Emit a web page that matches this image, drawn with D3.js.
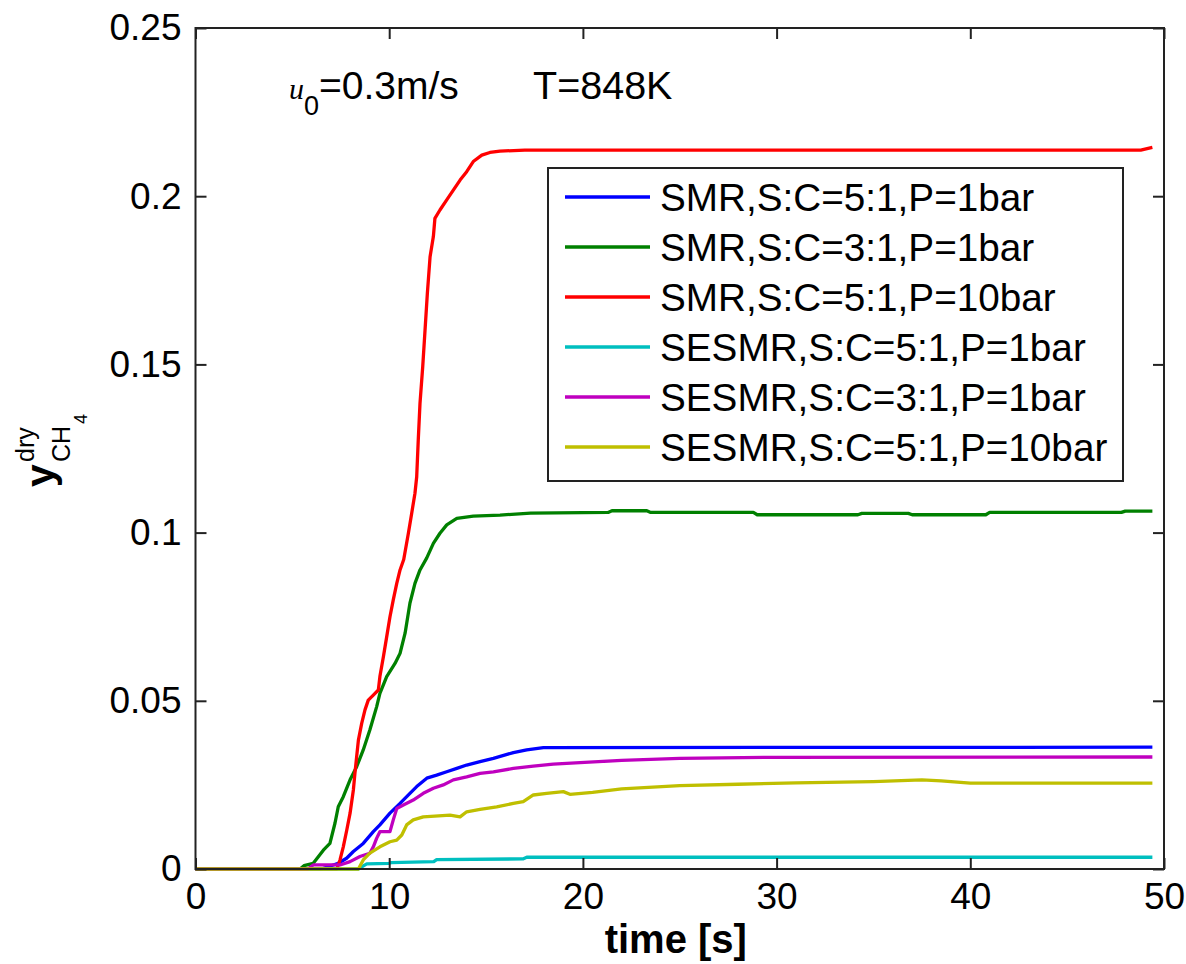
<!DOCTYPE html>
<html>
<head>
<meta charset="utf-8">
<script src="https://cdn.jsdelivr.net/npm/d3@7"></script>
<style>
  body { margin: 0; background: #fff; }
  svg text { font-family: "Liberation Sans", Arial, sans-serif; fill: #000; }
</style>
</head>
<body>
<div id="chart"></div>
<script>
// series labels and colours (MATLAB default order)
const seriesNames = [
  "SMR,S:C=5:1,P=1bar",
  "SMR,S:C=3:1,P=1bar",
  "SMR,S:C=5:1,P=10bar",
  "SESMR,S:C=5:1,P=1bar",
  "SESMR,S:C=3:1,P=1bar",
  "SESMR,S:C=5:1,P=10bar"
]
const seriesColors = ["#0000ff", "#008000", "#ff0000", "#00bfbf", "#bf00bf", "#bfbf00"]

// values: time [s] and y_CH4 for every curve
const tSMR51_1 = [0, 6.5, 7.11, 7.37, 7.8, 8.15, 8.66, 9.18, 9.52, 10.04, 10.56, 11.07, 11.42, 11.94, 12.45, 12.97, 13.49, 14.0, 14.69, 15.38, 16.41, 17.1, 17.96, 49.4]
const ySMR51_1 = [0, 0, 0.0012, 0.0017, 0.0032, 0.0052, 0.0076, 0.0111, 0.0131, 0.0166, 0.0195, 0.0225, 0.0245, 0.027, 0.0279, 0.0289, 0.0299, 0.0309, 0.0319, 0.0329, 0.0346, 0.0354, 0.0361, 0.0362]

const tSMR31_1 = [0, 5.4, 5.6, 6.08, 6.6, 6.94, 7.2, 7.37, 7.63, 7.98, 8.32, 8.66, 9.0, 9.35, 9.52, 9.87, 10.3, 10.56, 10.82, 11.07, 11.33, 11.59, 11.94, 12.28, 12.62, 12.97, 13.49, 14.34, 15.72, 17.3, 21.3, 21.5, 23.3, 23.5, 28.8, 29, 34.2, 34.4, 36.8, 37, 40.8, 41, 47.8, 48, 49.4]
const ySMR31_1 = [0, 0, 0.001, 0.0017, 0.0056, 0.0076, 0.0136, 0.0185, 0.0215, 0.0265, 0.0304, 0.0354, 0.0413, 0.0482, 0.0522, 0.0572, 0.0611, 0.0641, 0.0701, 0.079, 0.0849, 0.0889, 0.0925, 0.0968, 0.0998, 0.1023, 0.1042, 0.1049, 0.1052, 0.1058, 0.106, 0.1065, 0.1065, 0.106, 0.106, 0.1053, 0.1053, 0.1057, 0.1057, 0.1053, 0.1053, 0.106, 0.106, 0.1064, 0.1064]

const tSMR51_10 = [0, 7.3, 7.46, 7.63, 7.81, 7.98, 8.15, 8.23, 8.32, 8.41, 8.58, 8.75, 8.92, 9.18, 9.44, 9.52, 9.7, 9.87, 10.04, 10.21, 10.39, 10.56, 10.75, 10.99, 11.16, 11.33, 11.42, 11.5, 11.59, 11.73, 11.85, 11.97, 12.11, 12.28, 12.36, 12.62, 12.97, 13.31, 13.66, 14.0, 14.34, 14.78, 15.2, 15.72, 17, 48.8, 49.4]
const ySMR51_10 = [0, 0, 0.0027, 0.0066, 0.0116, 0.0166, 0.0235, 0.0284, 0.0334, 0.0383, 0.0433, 0.0473, 0.0502, 0.0517, 0.0532, 0.0572, 0.0631, 0.069, 0.075, 0.08, 0.0849, 0.0889, 0.092, 0.0998, 0.1057, 0.1117, 0.1166, 0.1275, 0.1384, 0.1493, 0.1602, 0.1711, 0.182, 0.188, 0.1934, 0.1959, 0.1989, 0.2018, 0.2048, 0.2073, 0.2103, 0.2122, 0.213, 0.2134, 0.2137, 0.2137, 0.2145]

const tSESMR51_1 = [0, 8.4, 8.84, 10.0, 10.1, 12.3, 12.45, 16.9, 17.1, 49.4]
const ySESMR51_1 = [0, 0, 0.0015, 0.0017, 0.0019, 0.0022, 0.0028, 0.003, 0.0035, 0.0035]

const tSESMR31_1 = [0, 5.8, 6.08, 7.46, 7.98, 8.49, 9.0, 9.18, 9.35, 9.52, 10.04, 10.21, 10.39, 10.73, 11.24, 11.76, 12.28, 12.79, 13.31, 14.0, 14.69, 15.38, 16.41, 17.44, 18.47, 19.85, 22, 25, 30, 49.4]
const ySESMR31_1 = [0, 0, 0.0012, 0.0012, 0.0022, 0.0037, 0.0047, 0.0066, 0.0091, 0.0111, 0.0111, 0.0146, 0.018, 0.019, 0.0205, 0.0225, 0.024, 0.025, 0.0265, 0.0274, 0.0284, 0.0289, 0.0299, 0.0306, 0.0312, 0.0316, 0.0323, 0.0329, 0.0332, 0.0333]

const tSESMR51_10 = [0, 8.41, 8.66, 9.0, 9.52, 10.04, 10.39, 10.65, 10.9, 11.24, 11.76, 13.14, 13.66, 14.0, 14.69, 15.55, 16.41, 16.92, 17.44, 18.13, 18.99, 19.33, 20.5, 22, 25, 28, 31, 35, 37.5, 38.5, 40, 49.4]
const ySESMR51_10 = [0, 0, 0.0027, 0.0047, 0.0066, 0.0081, 0.0086, 0.0101, 0.0131, 0.0146, 0.0155, 0.016, 0.0155, 0.017, 0.0177, 0.0185, 0.0195, 0.02, 0.022, 0.0225, 0.023, 0.0222, 0.0228, 0.0238, 0.0248, 0.0252, 0.0256, 0.026, 0.0265, 0.0262, 0.0255, 0.0255]

// axis ticks
const xTicks = [0, 10, 20, 30, 40, 50]
const yTicks = [0, 0.05, 0.1, 0.15, 0.2, 0.25]
const yTickLabels = ["0", "0.05", "0.1", "0.15", "0.2", "0.25"]

const seriesTimes = [tSMR51_1, tSMR31_1, tSMR51_10, tSESMR51_1, tSESMR31_1, tSESMR51_10]
const seriesValues = [ySMR51_1, ySMR31_1, ySMR51_10, ySESMR51_1, ySESMR31_1, ySESMR51_10]

// dimensions of the figure
const W = 1186, H = 964
const margin = { top: 28, right: 22, bottom: 95, left: 195.5 }
const width = W - margin.left - margin.right
const height = H - margin.top - margin.bottom

const svg = d3.select("#chart")
  .append("svg")
    .attr("width", W)
    .attr("height", H)

svg.append("rect").attr("width", W).attr("height", H).attr("fill", "#fff")

const chart = svg.append("g")
    .attr("transform", "translate(" + margin.left + "," + margin.top + ")")

const x = d3.scaleLinear().domain([0, 50]).range([0, width])
const y = d3.scaleLinear().domain([0, 0.25]).range([height, 0])

// curves
const line = d3.line()
  .x(d => x(d[0]))
  .y(d => y(d[1]))

seriesNames.forEach((name, i) => {
  const pts = seriesTimes[i].map((t, k) => [t, seriesValues[i][k]])
  chart.append("path")
    .datum(pts)
    .attr("fill", "none")
    .attr("stroke", seriesColors[i])
    .attr("stroke-width", 3.3)
    .attr("stroke-linejoin", "round")
    .attr("d", line)
})

// axes with inward ticks on all four sides
const tickLen = 11
function styleAxis(g) {
  g.select(".domain").remove()
  g.selectAll(".tick line").attr("stroke", "#222").attr("stroke-width", 2)
  g.selectAll(".tick text")
    .style("font-family", "'Liberation Sans', Arial, sans-serif")
    .style("font-size", "37px")
    .attr("fill", "#000")
}

chart.append("g")
    .attr("transform", `translate(0,${height})`)
    .call(d3.axisBottom(x).tickValues(xTicks).tickSize(-tickLen).tickPadding(14).tickFormat(d3.format("d")))
    .call(styleAxis)

chart.append("g")
    .call(d3.axisLeft(y).tickValues(yTicks).tickSize(-tickLen).tickPadding(14)
      .tickFormat((d, i) => yTickLabels[i]))
    .call(styleAxis)

chart.append("g")
    .call(d3.axisTop(x).tickValues(xTicks).tickSize(-tickLen).tickFormat(""))
    .call(styleAxis)

chart.append("g")
    .attr("transform", `translate(${width},0)`)
    .call(d3.axisRight(y).tickValues(yTicks).tickSize(-tickLen).tickFormat(""))
    .call(styleAxis)

chart.append("rect")
    .attr("width", width)
    .attr("height", height)
    .attr("fill", "none")
    .attr("stroke", "#222")
    .attr("stroke-width", 2)

// legend
const legend = svg.append("g").attr("transform", "translate(548,168)")
legend.append("rect")
    .attr("width", 575)
    .attr("height", 313)
    .attr("fill", "#fff")
    .attr("stroke", "#222")
    .attr("stroke-width", 2)

seriesNames.forEach((name, i) => {
  const ly = 29 + i * 50
  legend.append("line")
    .attr("x1", 17).attr("x2", 102)
    .attr("y1", ly).attr("y2", ly)
    .attr("stroke", seriesColors[i])
    .attr("stroke-width", 3.3)
  legend.append("text")
    .attr("x", 112)
    .attr("y", ly + 14)
    .style("font-size", "38.7px")
    .text(name)
})

// annotations
const ann = svg.append("text").attr("x", 289).attr("y", 99).style("font-size", "39px")
ann.append("tspan")
    .style("font-family", "'Liberation Serif', serif")
    .style("font-style", "italic")
    .style("font-size", "30px")
    .text("u")
ann.append("tspan")
    .attr("dy", 16)
    .style("font-size", "27px")
    .style("font-weight", 300)
    .text("0")
ann.append("tspan")
    .attr("dy", -16)
    .text("=0.3m/s")

svg.append("text")
    .attr("x", 533).attr("y", 99)
    .style("font-size", "39.5px")
    .text("T=848K")

// x axis title
svg.append("text")
    .attr("x", margin.left + width / 2 - 4)
    .attr("y", 953)
    .attr("text-anchor", "middle")
    .style("font-size", "40px")
    .style("font-weight", "bold")
    .text("time [s]")

// y axis title: y^dry_CH4, rotated
const yl = svg.append("g").attr("transform", "translate(54,487) rotate(-90)")
yl.append("text")
    .attr("x", 0).attr("y", 0)
    .style("font-size", "41px")
    .style("font-weight", "bold")
    .text("y")
yl.append("text")
    .attr("x", 25).attr("y", -20)
    .style("font-size", "25px")
    .text("dry")
yl.append("text")
    .attr("x", 25).attr("y", 16)
    .style("font-size", "25px")
    .text("CH")
yl.append("text")
    .attr("x", 63).attr("y", 33)
    .style("font-size", "18px")
    .text("4")
</script>
</body>
</html>
